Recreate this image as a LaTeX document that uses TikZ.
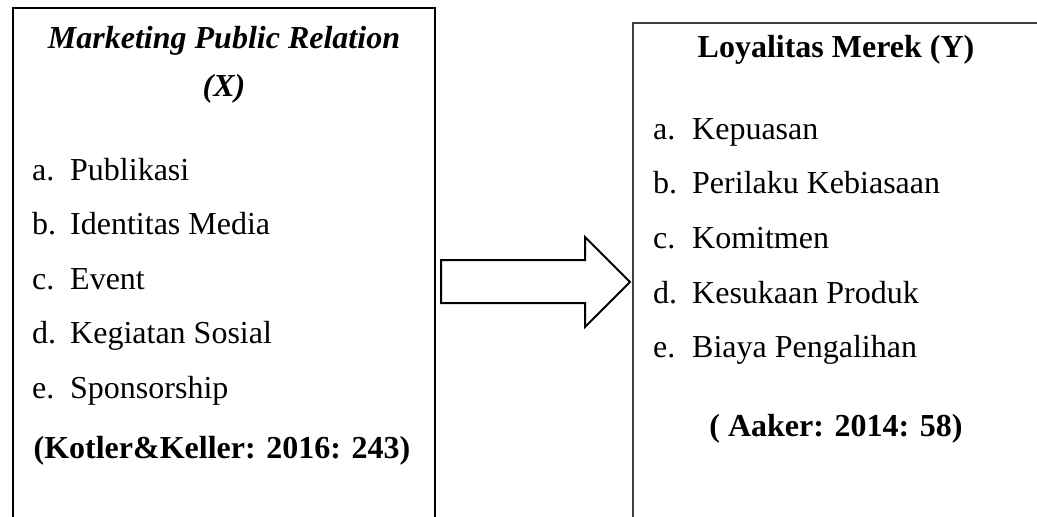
\documentclass[tikz,border=0pt]{standalone}
\usepackage{fontspec}
\setmainfont{Liberation Serif}
\begin{document}
\begin{tikzpicture}[x=1pt,y=-1pt,
  txt/.style={inner sep=0pt,font=\fontsize{32}{38}\selectfont},
  lbl/.style={txt,anchor=base west},
  ttl/.style={txt,anchor=base,font=\fontsize{32}{38}\selectfont\bfseries},
  boxline/.style={line width=2pt,draw=black},
  boxline2/.style={line width=1.4pt,draw=black!75},
  arrowline/.style={line width=2pt,draw=black,line join=miter}]
\useasboundingbox (0,0) rectangle (1037,517);
% left box
\draw[boxline] (13,530) -- (13,8) -- (435,8) -- (435,530);
% right box
\draw[boxline2] (633,530) -- (633,23) -- (1045,23);
% block arrow
\draw[arrowline] (441,260) -- (585,260) -- (585,237) -- (630,282) -- (585,327) -- (585,303) -- (441,303) -- cycle;
% left texts
\node[ttl,font=\fontsize{32}{38}\selectfont\bfseries\itshape] (lt1) at (224,48) {Marketing Public Relation};
\node[ttl,font=\fontsize{32}{38}\selectfont\bfseries\itshape] (lt2) at (224,96) {(X)};
\node[lbl] (la) at (32,180) {a.};
\node[lbl] (lat) at (70,180) {Publikasi};
\node[lbl] (lb) at (32,234) {b.};
\node[lbl] (lbt) at (70,234) {Identitas Media};
\node[lbl] (lc) at (32,289) {c.};
\node[lbl] (lct) at (70,289) {Event};
\node[lbl] (ld) at (32,343) {d.};
\node[lbl] (ldt) at (70,343) {Kegiatan Sosial};
\node[lbl] (le) at (32,398) {e.};
\node[lbl] (let) at (70,398) {Sponsorship};
\node[ttl] (lsrc) at (222,458) {(Kotler\&Keller: 2016: 243)};
% right texts
\node[ttl] (rt) at (836,57) {Loyalitas Merek (Y)};
\node[lbl] (ra) at (653,139) {a.};
\node[lbl] (rat) at (692,139) {Kepuasan};
\node[lbl] (rb) at (653,193) {b.};
\node[lbl] (rbt) at (692,193) {Perilaku Kebiasaan};
\node[lbl] (rc) at (653,248) {c.};
\node[lbl] (rct) at (692,248) {Komitmen};
\node[lbl] (rd) at (653,303) {d.};
\node[lbl] (rdt) at (692,303) {Kesukaan Produk};
\node[lbl] (re) at (653,357) {e.};
\node[lbl] (ret) at (692,357) {Biaya Pengalihan};
\node[ttl] (rsrc) at (836,436) {( Aaker: 2014: 58)};
\end{tikzpicture}
\end{document}
